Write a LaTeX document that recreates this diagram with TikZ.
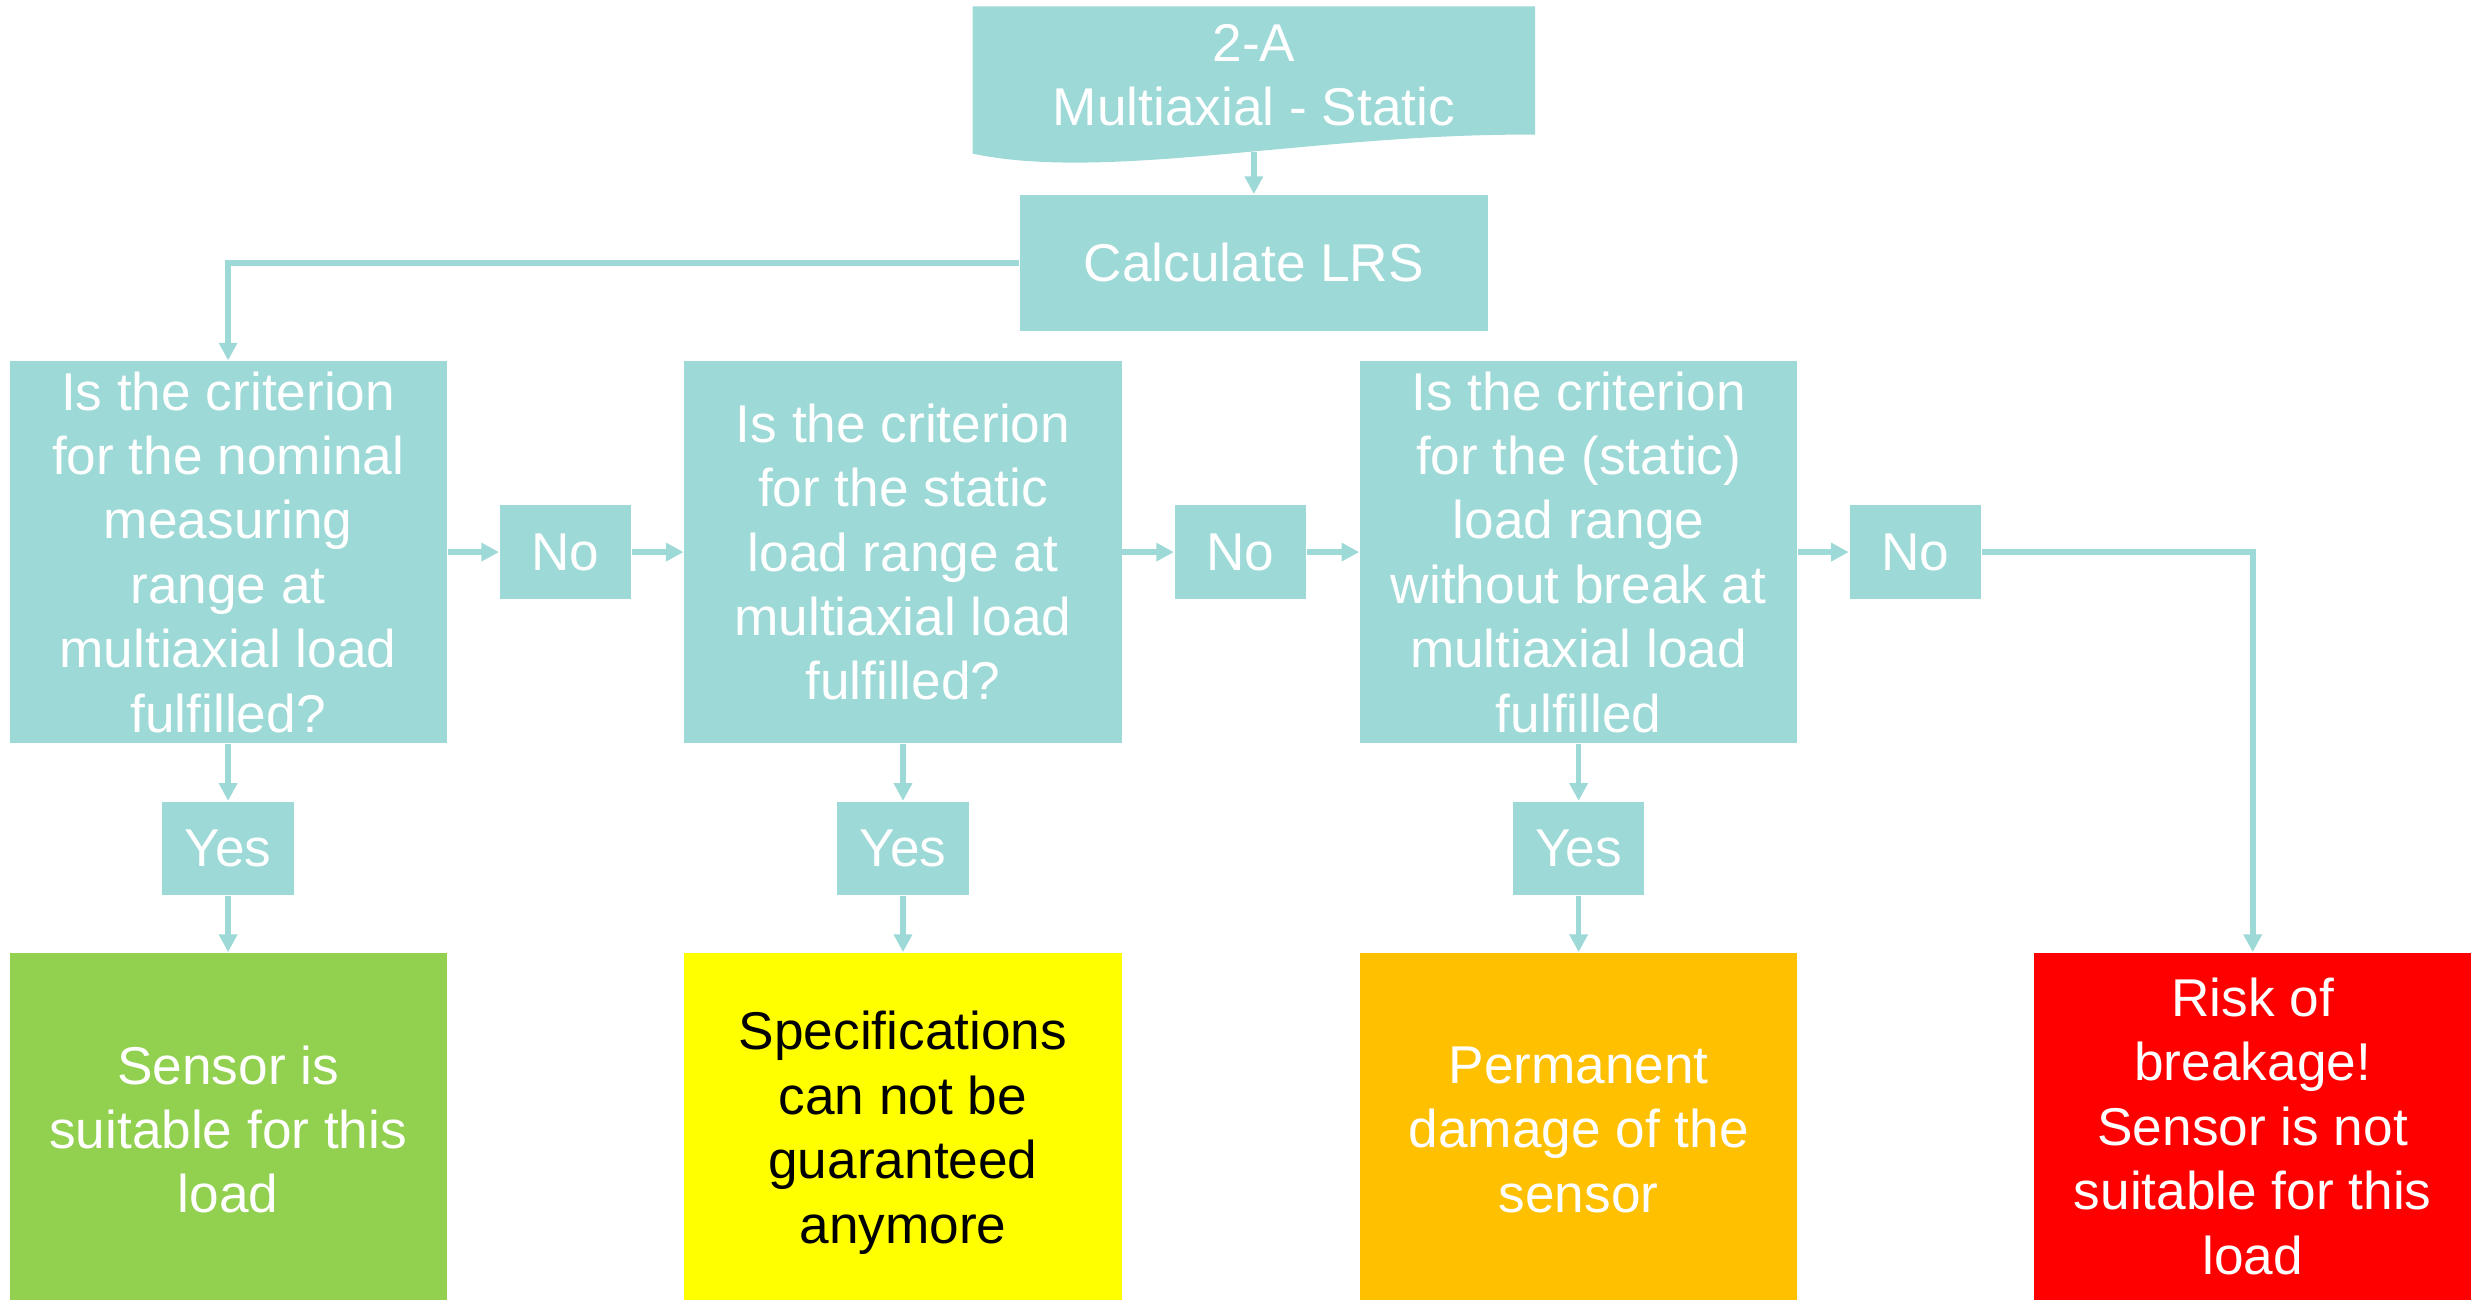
\documentclass[tikz,border=0pt]{standalone}
\usepackage{fontspec}
\setmainfont{Liberation Sans}
\usetikzlibrary{arrows.meta}
\definecolor{teal1}{RGB}{156,217,215}
\definecolor{okgreen}{RGB}{146,208,80}
\definecolor{warnyellow}{RGB}{255,255,0}
\definecolor{warnorange}{RGB}{255,192,0}
\definecolor{dangerred}{RGB}{255,0,0}
\def\uu{0.39605pt}
\tikzset{
  base/.style={inner sep=0pt, align=center, text=white,
    font=\fontsize{13.3}{16.1}\selectfont},
  tealbox/.style={base, fill=teal1},
  qbox/.style={tealbox, minimum width={276*\uu}, minimum height={241*\uu}},
  smallbox/.style={tealbox, minimum width={83*\uu}, minimum height={59*\uu}},
  resbox/.style={base, minimum width={276*\uu}, minimum height={219*\uu}},
  restext/.style={base, yshift=#1},
  conn/.style={draw=teal1, line width=1.4pt,
    -{Triangle[length=4.4pt, width=4.4pt]}},
}
\begin{document}
\begin{tikzpicture}[x=0.39605pt, y=-0.39605pt]
\useasboundingbox (0,0) rectangle (1568,822.6);
% document shape
\fill[teal1] (614,4) -- (969,4) -- (969,85)
  .. controls (830,84) and (700,115) .. (614,97) -- cycle;
\node[base] (doc) at (791.5,47.5) {2-A\\Multiaxial - Static};
\coordinate (docb) at (791.5,96);
\node[tealbox, minimum width={295*\uu}, minimum height={86*\uu}] (calc) at (791.5,166) {Calculate LRS};
% questions
\node[qbox] (q1) at (144,348.5) {Is the criterion\\for the nominal\\measuring\\range at\\multiaxial load\\fulfilled?};
\node[qbox] (q2) at (570,348.5) {Is the criterion\\for the static\\load range at\\multiaxial load\\fulfilled?};
\node[qbox] (q3) at (996.5,348.5) {Is the criterion\\for the (static)\\load range\\without break at\\multiaxial load\\fulfilled};
% no boxes
\node[smallbox] (no1) at (357,348.5) {No};
\node[smallbox] (no2) at (783,348.5) {No};
\node[smallbox] (no3) at (1209,348.5) {No};
% yes boxes
\node[smallbox] (yes1) at (144,535.5) {Yes};
\node[smallbox] (yes2) at (570,535.5) {Yes};
\node[smallbox] (yes3) at (996.5,535.5) {Yes};
% results
\node[resbox, fill=okgreen, label={[restext=-0.8pt]center:{Sensor is\\suitable for this\\load}}] (r1) at (144,711) {};
\node[resbox, fill=warnyellow, label={[restext=-1.6pt, text=black]center:{Specifications\\can not be\\guaranteed\\anymore}}] (r2) at (570,711) {};
\node[resbox, fill=warnorange, label={[restext=-0.8pt]center:{Permanent\\damage of the\\sensor}}] (r3) at (996.5,711) {};
\node[resbox, fill=dangerred] (r4) at (1422,711) {Risk of\\breakage!\\Sensor is not\\suitable for this\\load};
% connectors
\draw[conn] (docb) -- (calc.north);
\draw[conn] (calc.west) -| (q1.north);
\draw[conn] (q1.east) -- (no1.west);
\draw[conn] (no1.east) -- (q2.west);
\draw[conn] (q2.east) -- (no2.west);
\draw[conn] (no2.east) -- (q3.west);
\draw[conn] (q3.east) -- (no3.west);
\draw[conn] (no3.east) -| (r4.north);
\draw[conn] (q1.south) -- (yes1.north);
\draw[conn] (q2.south) -- (yes2.north);
\draw[conn] (q3.south) -- (yes3.north);
\draw[conn] (yes1.south) -- (r1.north);
\draw[conn] (yes2.south) -- (r2.north);
\draw[conn] (yes3.south) -- (r3.north);
\end{tikzpicture}
\end{document}
